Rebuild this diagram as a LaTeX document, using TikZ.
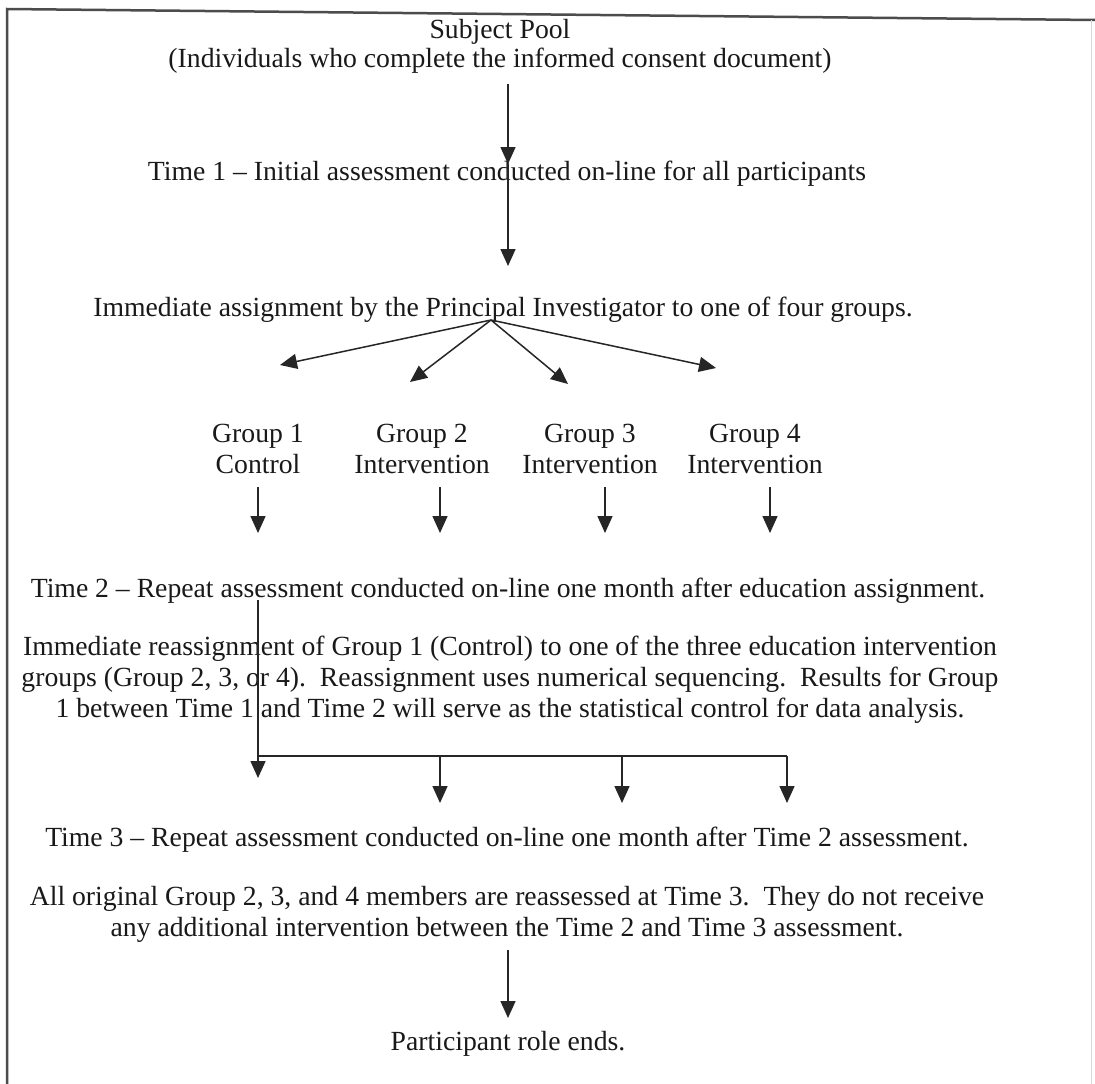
\documentclass[tikz,border=0pt]{standalone}
\usepackage{fontspec}
\setmainfont{Liberation Serif}
\usetikzlibrary{arrows.meta}
\begin{document}
\begin{tikzpicture}[x=1pt,y=-1pt,
  txt/.style={font=\fontsize{27.7}{31}\selectfont, inner sep=0pt, align=center, text=black!90},
  arr/.style={-{Triangle[length=17pt,width=15pt]}, line width=1.5pt, draw=black!85},
  ln/.style={line width=1.5pt, draw=black!85}]
\useasboundingbox (0,0) rectangle (1095,1084);
\fill[white] (0,0) rectangle (1095,1084);
\draw[line width=2.5pt, black!70] (7,1084) -- (7,9) -- (1095,20);
\draw[line width=1pt, black!15] (1091,20) -- (1091,1084);

\node[txt] (pool) at (500,46) {Subject Pool\\[-2pt](Individuals who complete the informed consent document)};
\node[txt] (t1) at (507,174) {Time 1 -- Initial assessment conducted on-line for all participants};
\node[txt] (assign) at (503,310) {Immediate assignment by the Principal Investigator to one of four groups.};
\node[txt] (g1) at (258,449) {Group 1\\Control};
\node[txt] (g2) at (422,449) {Group 2\\Intervention};
\node[txt] (g3) at (590,449) {Group 3\\Intervention};
\node[txt] (g4) at (755,449) {Group 4\\Intervention};
\node[txt] (t2) at (508,591) {Time 2 -- Repeat assessment conducted on-line one month after education assignment.};
\node[txt] (reassign) at (510,680) {Immediate reassignment of Group 1 (Control) to one of the three education intervention\\groups (Group 2, 3, or 4).\ \ Reassignment uses numerical sequencing.\ \ Results for Group\\1 between Time 1 and Time 2 will serve as the statistical control for data analysis.};
\node[txt] (t3) at (507,840) {Time 3 -- Repeat assessment conducted on-line one month after Time 2 assessment.};
\node[txt] (orig) at (507,914) {All original Group 2, 3, and 4 members are reassessed at Time 3.\ \ They do not receive\\any additional intervention between the Time 2 and Time 3 assessment.};
\node[txt] (end) at (508,1044) {Participant role ends.};

% top arrows
\coordinate (a1s) at (508,84);
\coordinate (a1e) at (508,164);
\coordinate (a2e) at (508,266);
\draw[arr] (a1s) -- (a1e);
\draw[arr] (a1e) -- (a2e);

% fan
\coordinate (apex) at (491,320);
\coordinate (f1) at (280,365);
\coordinate (f2) at (410,382);
\coordinate (f3) at (568,384);
\coordinate (f4) at (716,368);
\foreach \f in {f1,f2,f3,f4} \draw[arr] (apex) -- (\f);

% group arrows
\foreach \n/\x in {1/258,2/440,3/605,4/770} {
  \coordinate (gs\n) at (\x,487);
  \coordinate (ge\n) at (\x,533);
  \draw[arr] (gs\n) -- (ge\n);
}

% branch from time 2
\coordinate (b0) at (258,600);
\coordinate (bh) at (258,756);
\coordinate (b1) at (258,778);
\coordinate (h2) at (440,756);
\coordinate (h3) at (622,756);
\coordinate (h4) at (787,756);
\coordinate (e2) at (440,803);
\coordinate (e3) at (622,803);
\coordinate (e4) at (787,803);
\draw[ln] (b0) -- (bh) -- (h4);
\draw[arr] (bh) -- (b1);
\draw[arr] (h2) -- (e2);
\draw[arr] (h3) -- (e3);
\draw[arr] (h4) -- (e4);

% final
\coordinate (fs) at (508,950);
\coordinate (fe) at (508,1018);
\draw[arr] (fs) -- (fe);
\end{tikzpicture}
\end{document}
